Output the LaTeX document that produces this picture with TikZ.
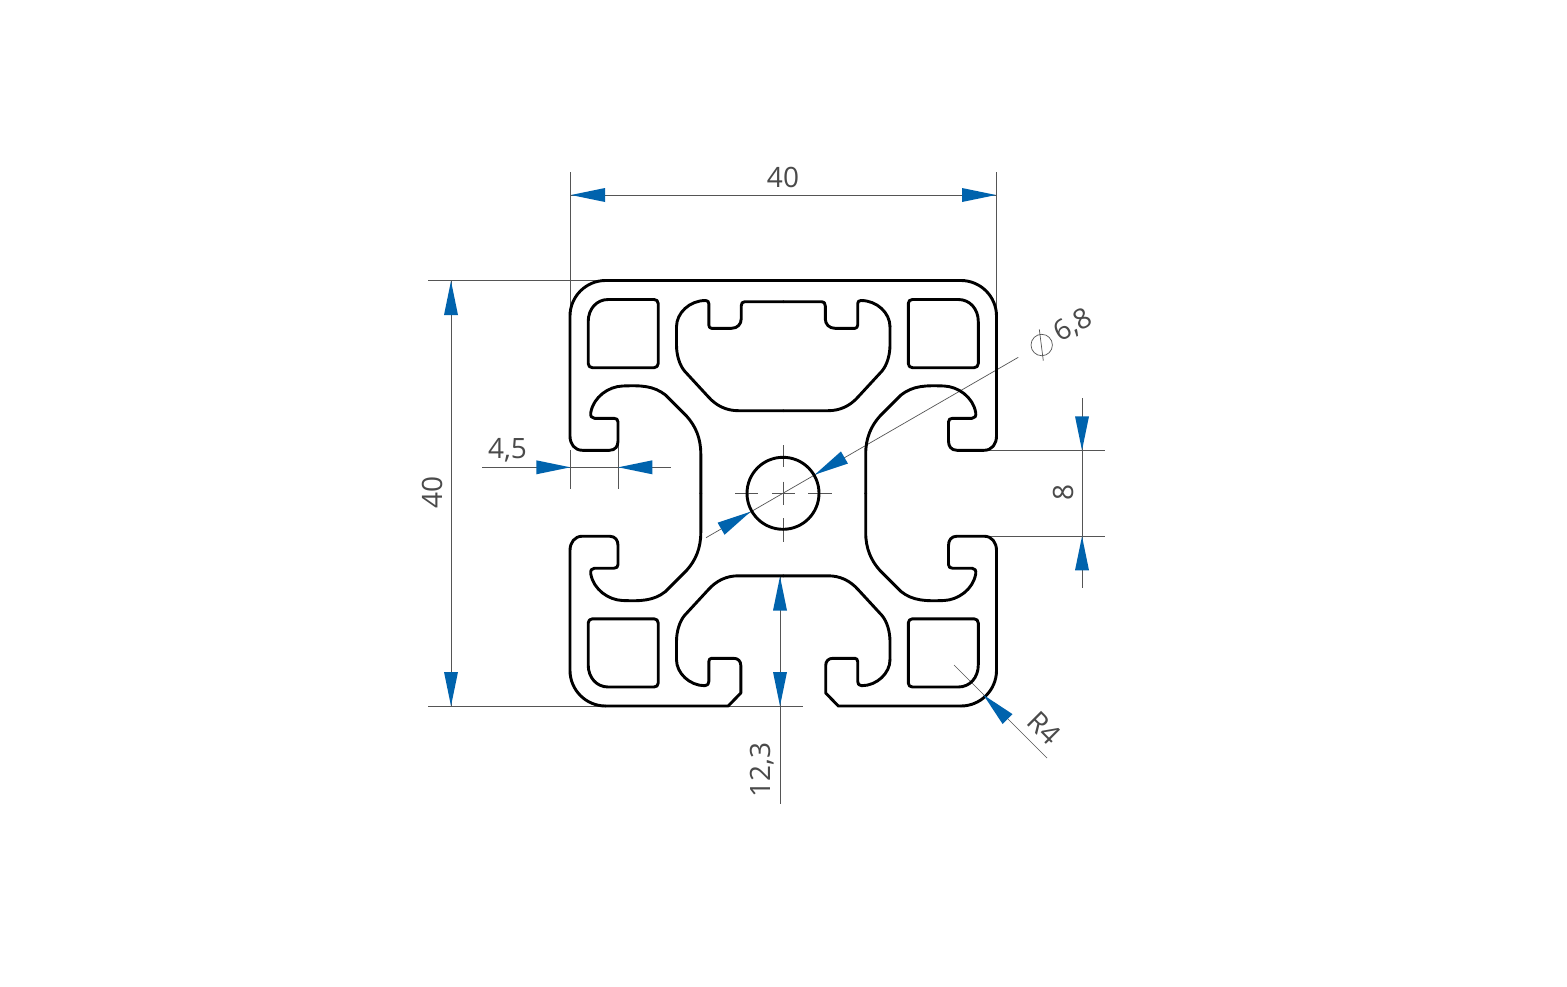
\documentclass[tikz,border=0pt]{standalone}
\usepackage{fontspec}
\setmainfont{Open Sans}
\definecolor{dimgray}{HTML}{555555}
\definecolor{dimtext}{HTML}{4A4A4A}
\definecolor{dimblue}{HTML}{0063AD}
\newcommand{\arrowtip}[3]{\fill[dimblue,shift={(#1,#2)},rotate=#3] (0,0) -- (34,7) -- (34,-7) -- cycle;}
\tikzset{
  dimline/.style={draw=dimgray,line width=0.9pt},
  profile/.style={draw=black,line width=2.9pt,line cap=round,line join=round},
  dimlabel/.style={text=dimtext,inner sep=0pt,font=\fontsize{28}{28}\selectfont},
  mirrored/.style 2 args={shift={(783.25,493.25)},xscale=#1,yscale=#2,shift={(-783.25,-493.25)}}
}
\begin{document}
\begin{tikzpicture}[x=1pt,y=-1pt]
\useasboundingbox (0,0) rectangle (1567,986);
\fill[white] (0,0) rectangle (1567,986);

% dimension and extension lines
\draw[dimline] (570.5,172) -- (570.5,315);
\draw[dimline] (996.5,172) -- (996.5,318);
\draw[dimline] (570.5,195) -- (996.5,195);
\draw[dimline] (428,280.5) -- (606,280.5);
\draw[dimline] (428,706) -- (803,706);
\draw[dimline] (451,280.5) -- (451,706);
\draw[dimline] (482,467.3) -- (671,467.3);
\draw[dimline] (570.3,450) -- (570.3,489);
\draw[dimline] (618.3,440) -- (618.3,489);
\draw[dimline] (985,450.3) -- (1105,450.3);
\draw[dimline] (985,536.3) -- (1105,536.3);
\draw[dimline] (1082,398) -- (1082,588);
\draw[dimline] (780,576) -- (780,804);
\draw[dimline,line width=0.7pt] (954,665) -- (1047,758);
\draw[dimline,line width=0.7pt] (706,537.7) -- (1018.3,357.3);
\draw[dimline,line width=0.7pt] (735,493.3) -- (757.7,493.3) (772,493.3) -- (795,493.3) (808.3,493.3) -- (831.7,493.3);
\draw[dimline,line width=0.7pt] (783.2,445) -- (783.2,467.3) (783.2,481.7) -- (783.2,505) (783.2,518.3) -- (783.2,541.7);

% profile: the four mirrored quadrants
\foreach \sx/\sy in {1/1,-1/1,1/-1,-1/-1}{
  \begin{scope}[mirrored={\sx}{\sy}]
    % outer corner and T-slot
    \draw[profile] (961,280.5) .. controls (980.5,280.5) and (996.5,296.5) .. (996.5,316)
      -- (996.5,436) .. controls (996.5,444) and (992,450.3) .. (984,450.3)
      -- (957,450.3) .. controls (951,450.3) and (948.5,446) .. (948.5,441)
      -- (948.5,422) .. controls (948.5,419.5) and (950,418.3) .. (952.5,418.3)
      -- (972,418.3) .. controls (975,418.3) and (976.3,416) .. (975.7,412.5)
      .. controls (973,397) and (958,386.5) .. (944,386)
      .. controls (926,385.3) and (913,385.5) .. (901,395)
      -- (880,416) .. controls (871,426) and (865.7,438) .. (865.7,454)
      -- (865.7,493.25);
    % corner chamber
    \draw[profile] (912.5,299.5) -- (958.3,299.5) .. controls (970,299.5) and (978.3,309) .. (978.3,321.7)
      -- (978.3,363.5) .. controls (978.3,366) and (976.5,367.7) .. (974,367.7)
      -- (912.5,367.7) .. controls (910,367.7) and (908.3,366) .. (908.3,363.5)
      -- (908.3,303.5) .. controls (908.3,301) and (910,299.5) .. (912.5,299.5) -- cycle;
    % common flank of the central chambers
    \draw[profile] (783.25,410.7) -- (828,410.7) .. controls (840,410.7) and (850,406) .. (858.3,396.7)
      -- (882,371) .. controls (887,365) and (890,355) .. (890,345)
      -- (890,326.7);
  \end{scope}
}
% top closed chamber, both halves; top edge
\foreach \sx in {1,-1}{
  \begin{scope}[mirrored={\sx}{1}]
    \draw[profile] (783.25,280.5) -- (961,280.5);
    \draw[profile] (890,326.7) .. controls (890,313) and (877,300.5) .. (861,300.5)
      .. controls (859,300.5) and (857.7,301.5) .. (857.7,303.5)
      -- (857.7,325) .. controls (857.7,327) and (856.5,328.3) .. (855,328.3)
      -- (835,328.3) .. controls (829,328.3) and (825.3,324) .. (825.3,319)
      -- (825.3,306) .. controls (825.3,303) and (824,301.7) .. (821.7,301.7)
      -- (783.25,301.7);
    % bottom slot
    \draw[profile] (890,659.8) .. controls (890,673) and (877,685.7) .. (861.7,685.7)
      .. controls (859,685.7) and (857.7,684) .. (857.7,681.5)
      -- (857.7,661.7) .. controls (857.7,659.5) and (856.5,658.3) .. (855,658.3)
      -- (833,658.3) .. controls (828.5,658.3) and (825.7,661) .. (825.7,665.5)
      -- (825.7,693) -- (838.3,706)
      -- (961,706);
  \end{scope}
}
% central bore
\draw[profile] (783,493.3) circle[radius=36];

% arrowheads
\arrowtip{571}{195}{0}
\arrowtip{996}{195}{180}
\arrowtip{451}{281}{-90}
\arrowtip{451}{706}{90}
\arrowtip{570.3}{467.3}{180}
\arrowtip{618.3}{467.3}{0}
\arrowtip{1082}{450.3}{90}
\arrowtip{1082}{536.3}{-90}
\arrowtip{780}{576.5}{-90}
\arrowtip{780}{706}{90}
\arrowtip{815}{474.5}{30}
\arrowtip{750.5}{511.7}{210}
\arrowtip{983.5}{695}{-45}

% diameter sign
\draw[dimline,line width=0.7pt] (1041.7,345) circle[radius=10.7];
\draw[dimline,line width=0.7pt] (1039.3,329.3) -- (1043.3,360.7);

% labels
\node[dimlabel] (top40) at (783,177) {40};
\node[dimlabel,rotate=90] (left40) at (432,492) {40};
\node[dimlabel] (wide45) at (507.5,450) {4,5};
\node[dimlabel,rotate=90] (gap8) at (1063,492) {8};
\node[dimlabel,rotate=90] (depth123) at (762,770) {12,3};
\node[dimlabel,rotate=30] (bore68) at (1073,326) {6,8};
\node[dimlabel,rotate=-45] (radius4) at (1044,728) {R4};
\end{tikzpicture}
\end{document}
